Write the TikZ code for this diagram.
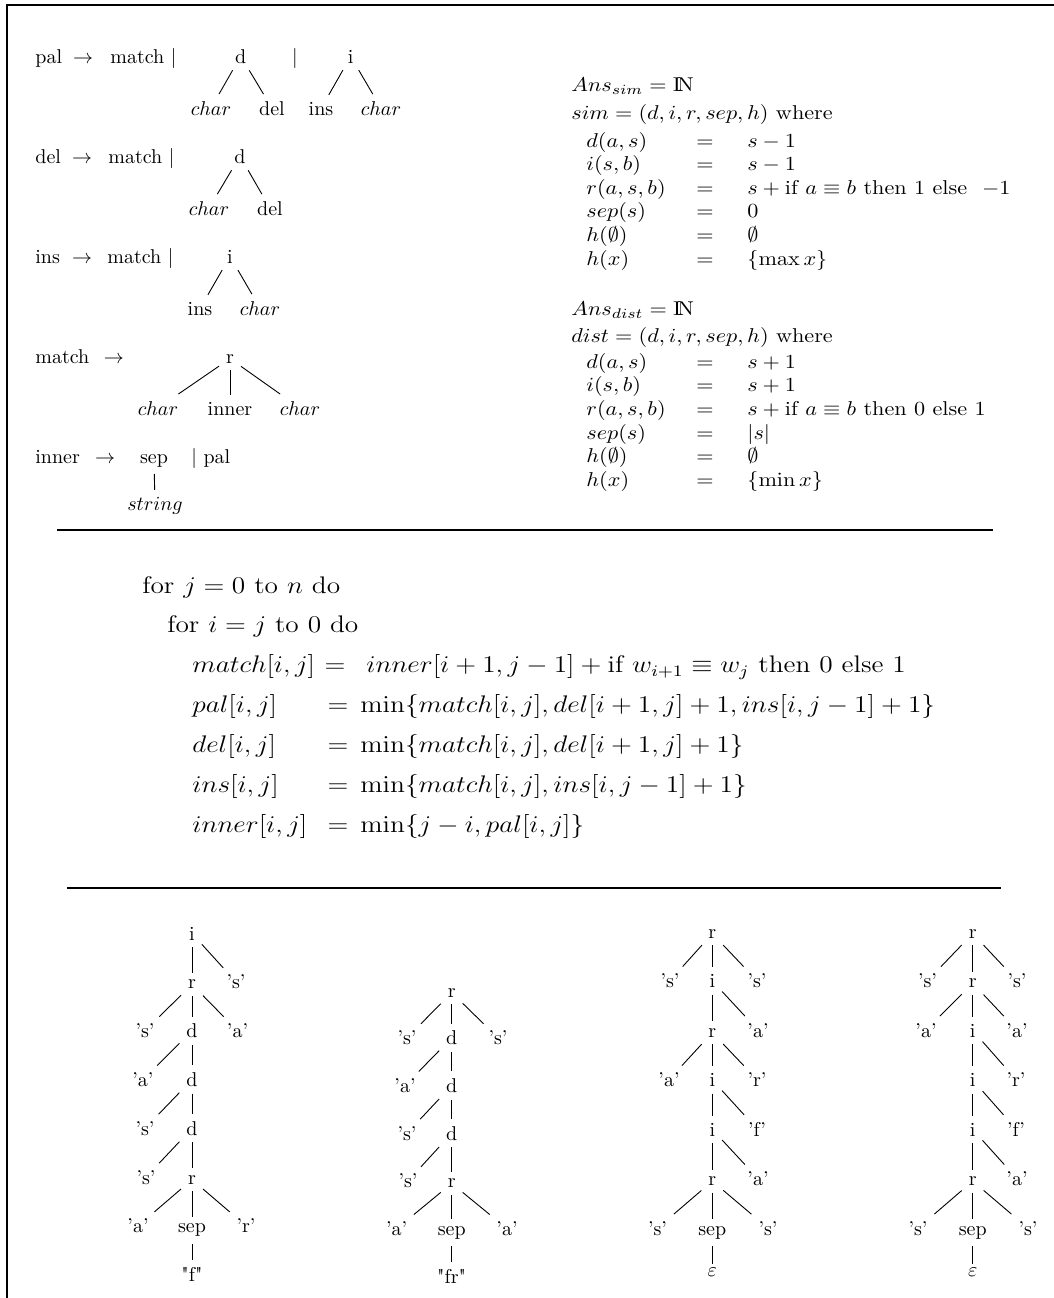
\documentclass[tikz,border=0pt]{standalone}
\usepackage{amsmath,amssymb,graphicx}
\newcommand{\mstretch}[1]{\scalebox{1.14}[1]{#1}}
\newcommand{\rstretch}[1]{\scalebox{1.11}[1]{#1}}
\begin{document}
\begin{tikzpicture}[x=0.5pt,y=-0.5pt,
  txt/.style={inner sep=0pt, anchor=base west},
  ctr/.style={inner sep=0pt, anchor=base},
  tn/.style={anchor=base, inner sep=3.33pt},
  eps/.style={anchor=base, inner xsep=3.33pt, inner ysep=1.5pt},
  edge/.style={line width=0.45pt},
  rule/.style={line width=1pt},
  big/.style={font=\large}]
\useasboundingbox (0,0) rectangle (1054,1298);
% frame
\coordinate (fbl) at (6.5,1298);
\coordinate (ftl) at (6.5,5);
\coordinate (ftr) at (1054,5);
\draw[rule] (fbl) -- (ftl) -- (ftr);

% ---------------- grammar ----------------
% row 1
\node[txt] (g1l) at (35,63) {pal};
\node[ctr] (g1a) at (83,63) {$\rightarrow$};
\node[txt] (g1m) at (110,63) {match $|$};
\node[tn] (g1d) at (240.7,63) {d};
\node[ctr] (g1b) at (295,63) {$|$};
\node[tn] (g1i) at (350.7,63) {i};
\node[tn] (g1c1) at (211,115) {$char$};
\node[tn] (g1c2) at (272,115) {del};
\node[tn] (g1c3) at (321,115) {ins};
\node[tn] (g1c4) at (381,115) {$char$};
\draw[edge] (g1d) -- (g1c1);
\draw[edge] (g1d) -- (g1c2);
\draw[edge] (g1i) -- (g1c3);
\draw[edge] (g1i) -- (g1c4);
% row 2
\node[txt] (g2l) at (35,163) {del};
\node[ctr] (g2a) at (82,163) {$\rightarrow$};
\node[txt] (g2m) at (108,163) {match $|$};
\node[tn] (g2d) at (240,163) {d};
\node[tn] (g2c1) at (209,215) {$char$};
\node[tn] (g2c2) at (270,215) {del};
\draw[edge] (g2d) -- (g2c1);
\draw[edge] (g2d) -- (g2c2);
% row 3
\node[txt] (g3l) at (35,263) {ins};
\node[ctr] (g3a) at (82,263) {$\rightarrow$};
\node[txt] (g3m) at (107,263) {match $|$};
\node[tn] (g3i) at (230,263) {i};
\node[tn] (g3c1) at (200,315) {ins};
\node[tn] (g3c2) at (260,315) {$char$};
\draw[edge] (g3i) -- (g3c1);
\draw[edge] (g3i) -- (g3c2);
% row 4
\node[txt] (g4l) at (35,363) {match};
\node[ctr] (g4a) at (114,363) {$\rightarrow$};
\node[tn] (g4r) at (230,363) {r};
\node[tn] (g4c1) at (158,415) {$char$};
\node[tn] (g4c2) at (230,415) {inner};
\node[tn] (g4c3) at (300,415) {$char$};
\draw[edge] (g4r) -- (g4c1);
\draw[edge] (g4r) -- (g4c2);
\draw[edge] (g4r) -- (g4c3);
% row 5
\node[txt] (g5l) at (35,463) {inner};
\node[ctr] (g5a) at (105,463) {$\rightarrow$};
\node[tn] (g5s) at (154,463) {sep};
\node[txt] (g5p) at (191,463) {$|$ pal};
\node[tn] (g5c) at (155,510) {$string$};
\draw[edge] (g5s) -- (g5c);

% ---------------- algebras ----------------
\node[txt] (s0) at (571,91) {\rstretch{$Ans_{sim} = \mathrm{I\!N}$}};
\node[txt] (s1) at (571,119) {\rstretch{$sim = (d,i,r,sep,h)$ where}};
\node[txt] (s2l) at (586,147) {\rstretch{$d(a,s)$}};
\node[ctr] (s2e) at (705,147) {\rstretch{$=$}};
\node[txt] (s2r) at (747,147) {\rstretch{$s-1$}};
\node[txt] (s3l) at (586,170.6) {\rstretch{$i(s,b)$}};
\node[ctr] (s3e) at (705,170.6) {\rstretch{$=$}};
\node[txt] (s3r) at (747,170.6) {\rstretch{$s-1$}};
\node[txt] (s4l) at (586,194.2) {\rstretch{$r(a,s,b)$}};
\node[ctr] (s4e) at (705,194.2) {\rstretch{$=$}};
\node[txt] (s4r) at (747,194.2) {\rstretch{$s+{}$if $a\equiv b$ then 1 else \ $-1$}};
\node[txt] (s5l) at (586,217.8) {\rstretch{$sep(s)$}};
\node[ctr] (s5e) at (705,217.8) {\rstretch{$=$}};
\node[txt] (s5r) at (747,217.8) {\rstretch{$0$}};
\node[txt] (s6l) at (586,241.4) {\rstretch{$h(\emptyset)$}};
\node[ctr] (s6e) at (705,241.4) {\rstretch{$=$}};
\node[txt] (s6r) at (747,241.4) {\rstretch{$\emptyset$}};
\node[txt] (s7l) at (586,265) {\rstretch{$h(x)$}};
\node[ctr] (s7e) at (705,265) {\rstretch{$=$}};
\node[txt] (s7r) at (747,265) {\rstretch{$\{\max x\}$}};

\node[txt] (d0) at (571,315) {\rstretch{$Ans_{dist} = \mathrm{I\!N}$}};
\node[txt] (d1) at (571,342) {\rstretch{$dist = (d,i,r,sep,h)$ where}};
\node[txt] (d2l) at (586,368) {\rstretch{$d(a,s)$}};
\node[ctr] (d2e) at (705,368) {\rstretch{$=$}};
\node[txt] (d2r) at (747,368) {\rstretch{$s+1$}};
\node[txt] (d3l) at (586,391.7) {\rstretch{$i(s,b)$}};
\node[ctr] (d3e) at (705,391.7) {\rstretch{$=$}};
\node[txt] (d3r) at (747,391.7) {\rstretch{$s+1$}};
\node[txt] (d4l) at (586,415.4) {\rstretch{$r(a,s,b)$}};
\node[ctr] (d4e) at (705,415.4) {\rstretch{$=$}};
\node[txt] (d4r) at (747,415.4) {\rstretch{$s+{}$if $a\equiv b$ then 0 else 1}};
\node[txt] (d5l) at (586,439.1) {\rstretch{$sep(s)$}};
\node[ctr] (d5e) at (705,439.1) {\rstretch{$=$}};
\node[txt] (d5r) at (747,439.1) {\rstretch{$|s|$}};
\node[txt] (d6l) at (586,462.8) {\rstretch{$h(\emptyset)$}};
\node[ctr] (d6e) at (705,462.8) {\rstretch{$=$}};
\node[txt] (d6r) at (747,462.8) {\rstretch{$\emptyset$}};
\node[txt] (d7l) at (586,486.5) {\rstretch{$h(x)$}};
\node[ctr] (d7e) at (705,486.5) {\rstretch{$=$}};
\node[txt] (d7r) at (747,486.5) {\rstretch{$\{\min x\}$}};

% separator 1
\coordinate (r1a) at (57,530);
\coordinate (r1b) at (993,530);
\draw[rule] (r1a) -- (r1b);

% ---------------- recurrences ----------------
\node[txt,big] (f1) at (142,593) {\mstretch{for $j = 0$ to $n$ do}};
\node[txt,big] (f2) at (167,632.5) {\mstretch{for $i = j$ to $0$ do}};
\node[txt,big] (e1l) at (192,672.5) {\mstretch{$match[i,j]$}};
\node[ctr,big] (e1e) at (335,672.5) {\mstretch{$=$}};
\node[txt,big] (e1r) at (366,672.5) {\mstretch{$inner[i+1,j-1] + {}$if $w_{i+1}\equiv w_j$ then $0$ else $1$}};
\node[txt,big] (e2l) at (192,712.5) {\mstretch{$pal[i,j]$}};
\node[ctr,big] (e2e) at (338,712.5) {\mstretch{$=$}};
\node[txt,big] (e2r) at (360,712.5) {\mstretch{$\min\{match[i,j], del[i+1,j]+1, ins[i,j-1]+1\}$}};
\node[txt,big] (e3l) at (192,752.5) {\mstretch{$del[i,j]$}};
\node[ctr,big] (e3e) at (338,752.5) {\mstretch{$=$}};
\node[txt,big] (e3r) at (360,752.5) {\mstretch{$\min\{match[i,j], del[i+1,j]+1\}$}};
\node[txt,big] (e4l) at (192,792.5) {\mstretch{$ins[i,j]$}};
\node[ctr,big] (e4e) at (338,792.5) {\mstretch{$=$}};
\node[txt,big] (e4r) at (360,792.5) {\mstretch{$\min\{match[i,j], ins[i,j-1]+1\}$}};
\node[txt,big] (e5l) at (192,832) {\mstretch{$inner[i,j]$}};
\node[ctr,big] (e5e) at (338,832) {\mstretch{$=$}};
\node[txt,big] (e5r) at (360,832) {\mstretch{$\min\{j-i, pal[i,j]\}$}};

% separator 2
\coordinate (r2a) at (67,888);
\coordinate (r2b) at (1001,888);
\draw[rule] (r2a) -- (r2b);

% ---------------- tree 1 ----------------
\node[tn] (t1a) at (192,940) {i};
\node[tn] (t1b) at (192,988.8) {r};
\node[tn] (t1bs) at (236,988.8) {'s'};
\node[tn] (t1c) at (192,1037.6) {d};
\node[tn] (t1cl) at (145,1037.6) {'s'};
\node[tn] (t1cr) at (237.5,1037.6) {'a'};
\node[tn] (t1d) at (192,1086.4) {d};
\node[tn] (t1dl) at (143,1086.4) {'a'};
\node[tn] (t1e) at (192,1135.2) {d};
\node[tn] (t1el) at (145,1135.2) {'s'};
\node[tn] (t1f) at (192,1184) {r};
\node[tn] (t1fl) at (146,1184) {'s'};
\node[tn] (t1g) at (192,1232.8) {sep};
\node[tn] (t1gl) at (138,1232.8) {'a'};
\node[tn] (t1gr) at (246,1232.8) {'r'};
\node[tn] (t1h) at (192,1281.6) {\textquotedbl f\textquotedbl};
\draw[edge] (t1a) -- (t1b);
\draw[edge] (t1a) -- (t1bs);
\draw[edge] (t1b) -- (t1cl);
\draw[edge] (t1b) -- (t1c);
\draw[edge] (t1b) -- (t1cr);
\draw[edge] (t1c) -- (t1dl);
\draw[edge] (t1c) -- (t1d);
\draw[edge] (t1d) -- (t1el);
\draw[edge] (t1d) -- (t1e);
\draw[edge] (t1e) -- (t1fl);
\draw[edge] (t1e) -- (t1f);
\draw[edge] (t1f) -- (t1gl);
\draw[edge] (t1f) -- (t1g);
\draw[edge] (t1f) -- (t1gr);
\draw[edge] (t1g) -- (t1h);

% ---------------- tree 2 ----------------
\node[tn] (t2a) at (451.7,997) {r};
\node[tn] (t2al) at (407,1044.7) {'s'};
\node[tn] (t2b) at (451.7,1044.7) {d};
\node[tn] (t2ar) at (498,1044.7) {'s'};
\node[tn] (t2bl) at (405,1092.4) {'a'};
\node[tn] (t2c) at (451.7,1092.4) {d};
\node[tn] (t2cl) at (407,1140.1) {'s'};
\node[tn] (t2d) at (451.7,1140.1) {d};
\node[tn] (t2dl) at (408,1187.8) {'s'};
\node[tn] (t2e) at (451.7,1187.8) {r};
\node[tn] (t2el) at (396.7,1235.5) {'a'};
\node[tn] (t2f) at (451.7,1235.5) {sep};
\node[tn] (t2er) at (507,1235.5) {'a'};
\node[tn] (t2g) at (451.7,1283.2) {\textquotedbl fr\textquotedbl};
\draw[edge] (t2a) -- (t2al);
\draw[edge] (t2a) -- (t2b);
\draw[edge] (t2a) -- (t2ar);
\draw[edge] (t2b) -- (t2bl);
\draw[edge] (t2b) -- (t2c);
\draw[edge] (t2c) -- (t2cl);
\draw[edge] (t2c) -- (t2d);
\draw[edge] (t2d) -- (t2dl);
\draw[edge] (t2d) -- (t2e);
\draw[edge] (t2e) -- (t2el);
\draw[edge] (t2e) -- (t2f);
\draw[edge] (t2e) -- (t2er);
\draw[edge] (t2f) -- (t2g);

% ---------------- tree 3 ----------------
\node[tn] (t3a) at (712.3,938) {r};
\node[tn] (t3al) at (670,987.5) {'s'};
\node[tn] (t3b) at (712.3,987.5) {i};
\node[tn] (t3ar) at (757,987.5) {'s'};
\node[tn] (t3c) at (712.3,1037) {r};
\node[tn] (t3br) at (758,1037) {'a'};
\node[tn] (t3cl) at (669,1086.5) {'a'};
\node[tn] (t3d) at (712.3,1086.5) {i};
\node[tn] (t3cr) at (757,1086.5) {'r'};
\node[tn] (t3e) at (712.3,1136) {i};
\node[tn] (t3dr) at (757,1136) {'f'};
\node[tn] (t3f) at (712.3,1185.5) {r};
\node[tn] (t3er) at (758,1185.5) {'a'};
\node[tn] (t3fl) at (657.5,1235) {'s'};
\node[tn] (t3g) at (712.3,1235) {sep};
\node[tn] (t3fr) at (768,1235) {'s'};
\node[eps] (t3h) at (712.3,1276) {$\varepsilon$};
\draw[edge] (t3a) -- (t3al);
\draw[edge] (t3a) -- (t3b);
\draw[edge] (t3a) -- (t3ar);
\draw[edge] (t3b) -- (t3c);
\draw[edge] (t3b) -- (t3br);
\draw[edge] (t3c) -- (t3cl);
\draw[edge] (t3c) -- (t3d);
\draw[edge] (t3c) -- (t3cr);
\draw[edge] (t3d) -- (t3e);
\draw[edge] (t3d) -- (t3dr);
\draw[edge] (t3e) -- (t3f);
\draw[edge] (t3e) -- (t3er);
\draw[edge] (t3f) -- (t3fl);
\draw[edge] (t3f) -- (t3g);
\draw[edge] (t3f) -- (t3fr);
\draw[edge] (t3g) -- (t3h);

% ---------------- tree 4 ----------------
\node[tn] (t4a) at (972.7,938) {r};
\node[tn] (t4al) at (927.5,987.5) {'s'};
\node[tn] (t4b) at (972.7,987.5) {r};
\node[tn] (t4ar) at (1017,987.5) {'s'};
\node[tn] (t4bl) at (926,1037) {'a'};
\node[tn] (t4c) at (972.7,1037) {i};
\node[tn] (t4br) at (1017,1037) {'a'};
\node[tn] (t4d) at (972.7,1086.5) {i};
\node[tn] (t4cr) at (1016,1086.5) {'r'};
\node[tn] (t4e) at (972.7,1136) {i};
\node[tn] (t4dr) at (1016,1136) {'f'};
\node[tn] (t4f) at (972.7,1185.5) {r};
\node[tn] (t4er) at (1017,1185.5) {'a'};
\node[tn] (t4fl) at (918,1235) {'s'};
\node[tn] (t4g) at (972.7,1235) {sep};
\node[tn] (t4fr) at (1028,1235) {'s'};
\node[eps] (t4h) at (972.7,1276) {$\varepsilon$};
\draw[edge] (t4a) -- (t4al);
\draw[edge] (t4a) -- (t4b);
\draw[edge] (t4a) -- (t4ar);
\draw[edge] (t4b) -- (t4bl);
\draw[edge] (t4b) -- (t4c);
\draw[edge] (t4b) -- (t4br);
\draw[edge] (t4c) -- (t4d);
\draw[edge] (t4c) -- (t4cr);
\draw[edge] (t4d) -- (t4e);
\draw[edge] (t4d) -- (t4dr);
\draw[edge] (t4e) -- (t4f);
\draw[edge] (t4e) -- (t4er);
\draw[edge] (t4f) -- (t4fl);
\draw[edge] (t4f) -- (t4g);
\draw[edge] (t4f) -- (t4fr);
\draw[edge] (t4g) -- (t4h);
\end{tikzpicture}
\end{document}
